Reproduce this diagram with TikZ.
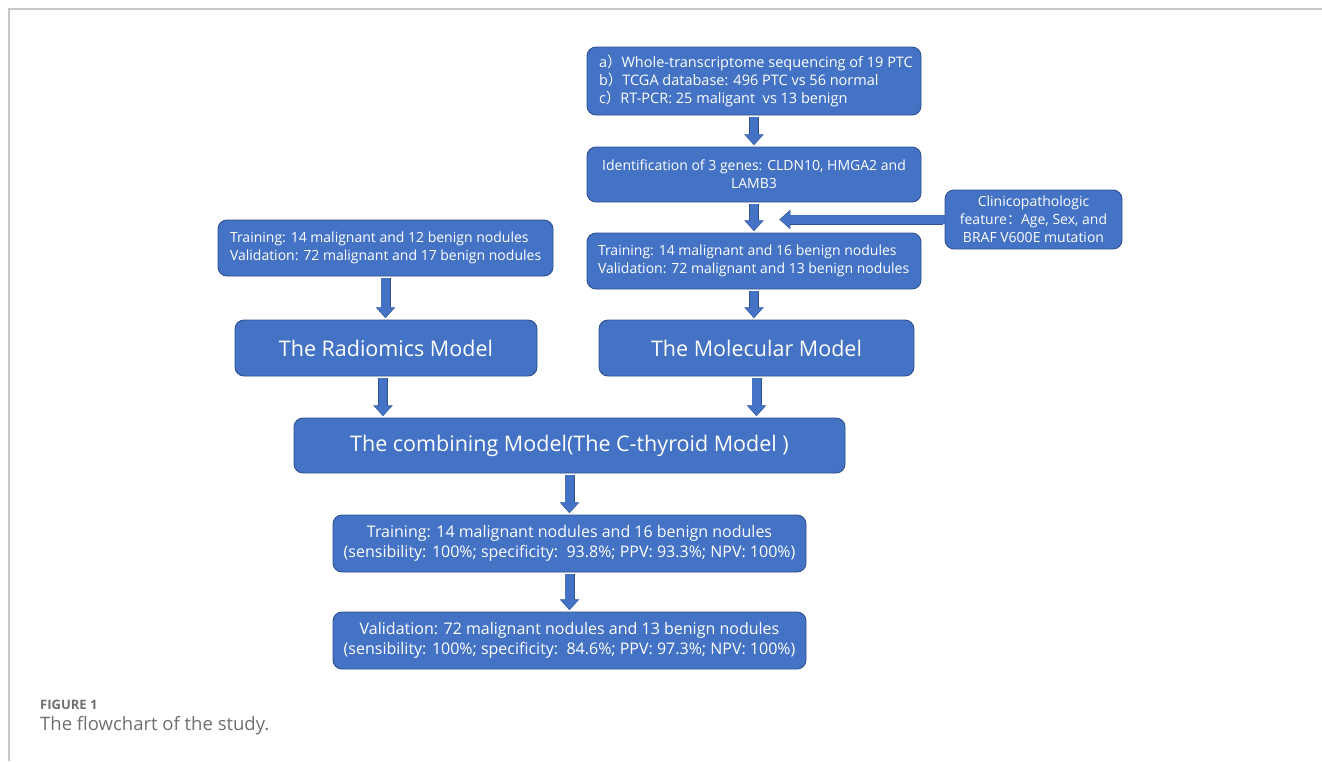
\documentclass[tikz,border=0pt]{standalone}
\usepackage{fontspec}
\setmainfont{Open Sans}
\newfontfamily\cjk{Noto Sans CJK SC}
\usetikzlibrary{arrows.meta,calc}
\definecolor{boxblue}{HTML}{4472C4}
\definecolor{boxedge}{HTML}{2F528F}
\definecolor{framegray}{HTML}{C8C8C8}
\definecolor{capgray}{HTML}{707070}
\tikzset{
  bx/.style={draw=boxedge, line width=0.9pt, fill=boxblue, rounded corners=9pt,
    text=white, inner sep=0pt, font=\fontsize{14}{18}\selectfont},
  bigbx/.style={bx, font=\fontsize{21.5}{24}\selectfont},
  botbx/.style={bx, font=\fontsize{16}{20}\selectfont},
  barrow/.style={draw=boxblue, line width=8.5pt,
    -{Triangle[width=17pt,length=10pt]}, shorten <=2pt, shorten >=2pt,
    preaction={draw=boxedge, line width=10pt, -{Triangle[width=19pt,length=11pt]}, shorten <=2pt, shorten >=1.3pt}},
}
\begin{document}
\begin{tikzpicture}[x=1pt,y=-1pt]
\useasboundingbox (0,0) rectangle (1322,761);
\fill[white] (0,0) rectangle (1322,761);
\draw[framegray, line width=1.3pt] (9,761) -- (9,9) -- (1322,9);

\node[bx, minimum width=334pt, minimum height=68pt, font=\fontsize{14.5}{18}\selectfont] (seq) at (754,81)
  {\hspace*{12pt}\parbox{322pt}{a{\cjk ）}Whole-transcriptome sequencing of 19 PTC\\
   b{\cjk ）}TCGA database: 496 PTC vs 56 normal\\
   c{\cjk ）}RT-PCR: 25 maligant\ \ vs 13 benign}};
\node[bx, minimum width=334pt, minimum height=55pt, align=center] (genes) at (754,174.5)
  {Identification of 3 genes: CLDN10, HMGA2 and\\LAMB3};
\node[bx, minimum width=334pt, minimum height=56pt] (mol) at (754,261)
  {\hspace*{11pt}\parbox{323pt}{Training: 14 malignant and 16 benign nodules\\
   Validation: 72 malignant and 13 benign nodules}};
\node[bx, minimum width=177pt, minimum height=59pt, align=center] (clin) at (1033.5,219.5)
  {Clinicopathologic\\feature{\cjk ：}Age, Sex, and\\BRAF V600E mutation};
\node[bx, minimum width=335pt, minimum height=56pt] (rad) at (385.5,248)
  {\hspace*{12pt}\parbox{323pt}{Training: 14 malignant and 12 benign nodules\\
   Validation: 72 malignant and 17 benign nodules}};
\node[bigbx, minimum width=302pt, minimum height=56pt] (radm) at (386,348) {The Radiomics Model};
\node[bigbx, minimum width=315pt, minimum height=56pt] (molm) at (756.5,348) {The Molecular Model};
\node[bigbx, minimum width=551pt, minimum height=55pt] (comb) at (569.5,445.5) {The combining Model(The C-thyroid Model )};
\node[botbx, minimum width=473pt, minimum height=57pt, align=center] (train) at (569.5,543.5)
  {Training: 14 malignant nodules and 16 benign nodules\\
   (sensibility: 100\%; specificity:\ \ 93.8\%; PPV: 93.3\%; NPV: 100\%)};
\node[botbx, minimum width=473pt, minimum height=57pt, align=center] (valid) at (569.5,640.5)
  {Validation: 72 malignant nodules and 13 benign nodules\\
   (sensibility: 100\%; specificity:\ \ 84.6\%; PPV: 97.3\%; NPV: 100\%)};

\coordinate (r1) at ([xshift=-3pt]radm.south);
\coordinate (tip) at (778,219.5);
\draw[barrow] (seq.south) -- (genes.north);
\draw[barrow] (genes.south) -- (mol.north);
\draw[barrow, shorten <=0pt] (clin.west) -- (tip);
\draw[barrow] (mol.south) -- (mol.south |- molm.north);
\draw[barrow] (rad.south) -- (rad.south |- radm.north);
\draw[barrow] (r1) -- (r1 |- comb.north);
\draw[barrow] (molm.south) -- (molm.south |- comb.north);
\draw[barrow] (comb.south) -- (train.north);
\draw[barrow] (train.south) -- (valid.north);

\node[anchor=base west, inner sep=0pt, text=capgray, font=\fontsize{13}{15}\selectfont\bfseries] (fig) at (40,709) {FIGURE 1};
\node[anchor=base west, inner sep=0pt, text=capgray, font=\fontsize{18.5}{21}\selectfont] (cap) at (40,730) {The flowchart of the study.};
\end{tikzpicture}
\end{document}
